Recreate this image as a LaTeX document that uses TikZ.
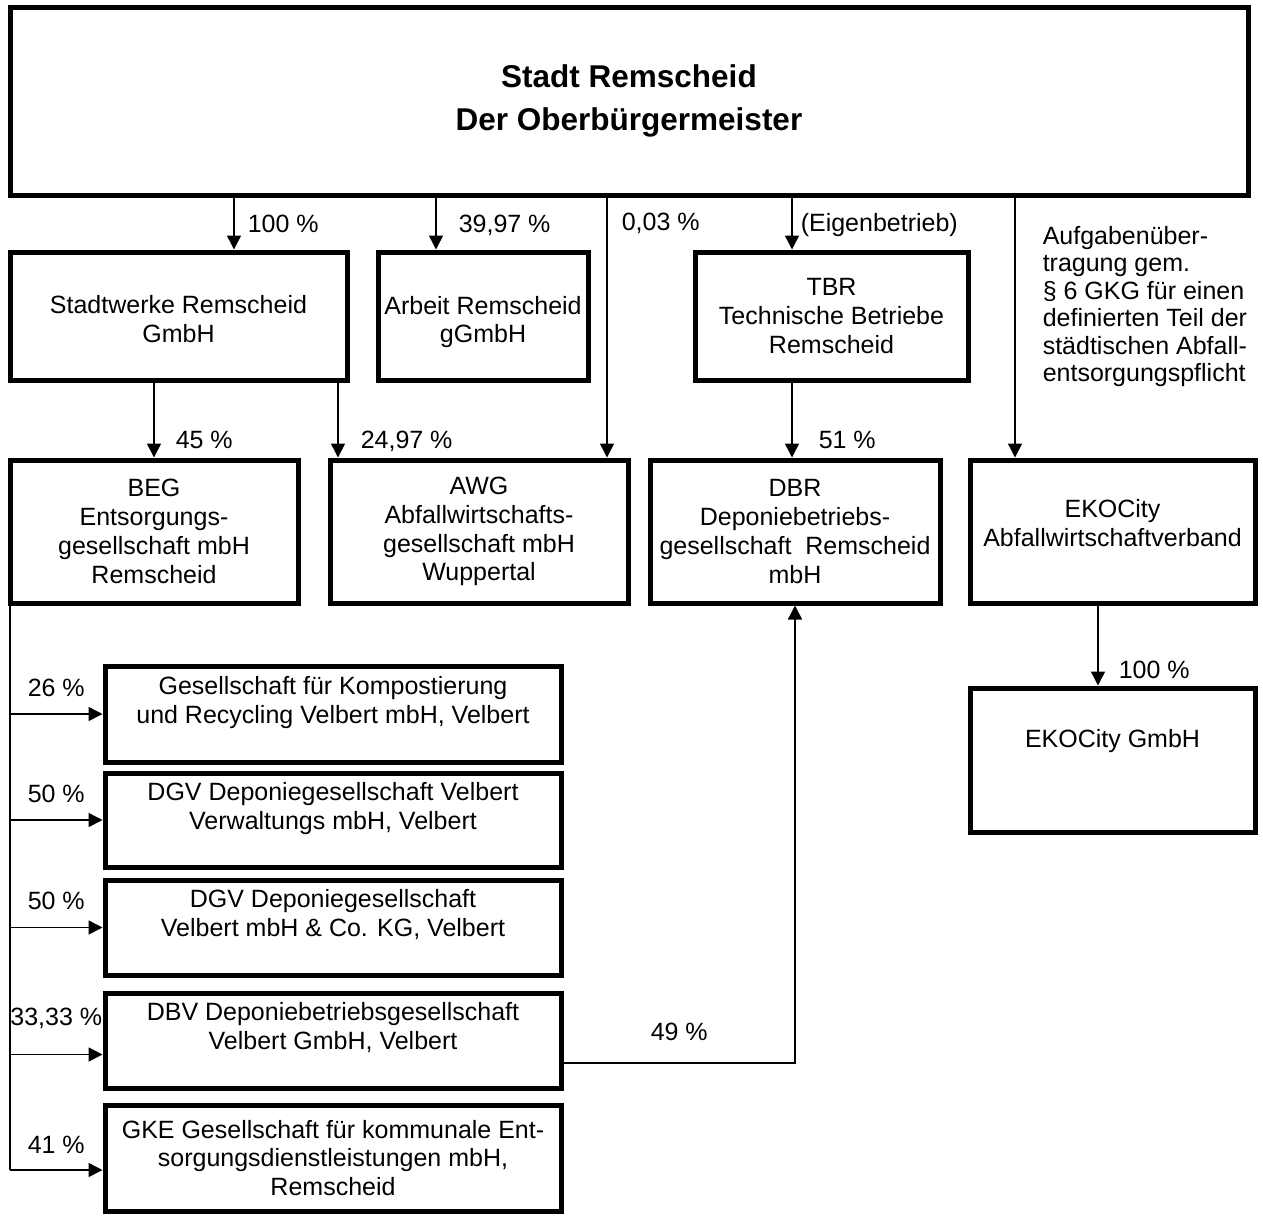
\documentclass[tikz,border=0pt]{standalone}
\usepackage{fontspec}
\setmainfont{Liberation Sans}
\usetikzlibrary{arrows.meta,positioning}

\begin{document}
\begin{tikzpicture}[x=1pt,y=-1pt,>={Triangle[length=14pt,width=14pt]},
  font=\fontsize{25}{28.75}\selectfont,
  org/.style={draw,line width=5pt,align=center,inner sep=3pt},
  link/.style={->,line width=1.5pt},
  pct/.style={right,inner sep=0pt}]
  \useasboundingbox (0,0) rectangle (1263,1216);
  \node[org,minimum width=1238pt,minimum height=188pt,
        font=\bfseries\fontsize{31.5}{43}\selectfont] (stadt) at (629,101)
        {Stadt Remscheid\\Der Oberbürgermeister};
  \node[org,minimum width=337pt,minimum height=128pt] (swr) at (178.5,316) {\rule{0pt}{24pt}Stadtwerke Remscheid\\GmbH};
  \node[org,minimum width=210pt,minimum height=128pt] (arbeit) [right=26pt of swr] {\rule{0pt}{30pt}Arbeit Remscheid\\gGmbH};
  \node[org,minimum width=273pt,minimum height=128pt] (tbr) [right=102pt of arbeit] {TBR\\Technische Betriebe\\Remscheid};
  \node[org,minimum width=288pt,minimum height=143pt] (beg) at (154,531.5) {BEG\\Entsorgungs-\\gesellschaft mbH\\Remscheid};
  \node[org,minimum width=298pt,minimum height=143pt] (awg) [right=27pt of beg] {AWG\\Abfallwirtschafts-\\gesellschaft mbH\\Wuppertal};
  \node[org,minimum width=290pt,minimum height=143pt] (dbr) [right=17pt of awg] {DBR\\Deponiebetriebs-\\gesellschaft\ \ Remscheid\\mbH};
  \node[org,minimum width=285pt,minimum height=143pt] (eko) [right=25pt of dbr] {EKOCity\\Abfallwirtschaftverband\\[-12pt]\mbox{}};
  \node[org,minimum width=285pt,minimum height=144pt] (ekogmbh) [below=80pt of eko] {EKOCity GmbH\\[-14pt]\mbox{}\\\mbox{}};
  \node[org,minimum width=456pt,minimum height=96pt] (kv1) at (333,714) {Gesellschaft für Kompostierung\\und Recycling Velbert mbH, Velbert\\\mbox{}};
  \node[org,minimum width=456pt,minimum height=94pt] (kv2) [below=6pt of kv1] {DGV Deponiegesellschaft Velbert\\Verwaltungs mbH, Velbert\\\mbox{}};
  \node[org,minimum width=456pt,minimum height=95pt] (kv3) [below=8pt of kv2] {DGV Deponiegesellschaft\\Velbert mbH \& Co. KG, Velbert\\\mbox{}};
  \node[org,minimum width=456pt,minimum height=95pt] (kv4) [below=13pt of kv3] {DBV Deponiebetriebsgesellschaft\\Velbert GmbH, Velbert\\\mbox{}};
  \node[org,minimum width=456pt,minimum height=106pt] (kv5) [below=12pt of kv4] {GKE Gesellschaft für kommunale Ent-\\sorgungsdienstleistungen mbH,\\Remscheid};

  \coordinate (swrline) at (234,0);
  \coordinate (arbline) at (436,0);
  \coordinate (awgline) at (607,0);
  \coordinate (tbrline) at (792,0);
  \coordinate (ekoline) at (1015,0);
  \coordinate (awgline2) at (338,0);
  \coordinate (gmbhline) at (1098,0);
  \coordinate (trunkend) at (10,1170);
  \coordinate (kv4in) at ([yshift=-14pt]kv4.west);
  \coordinate (kv4out) at ([yshift=-22.5pt]kv4.east);

  \draw[link] (stadt.south -| swrline) -- node[pct,xshift=13pt] {100 \%} (swr.north -| swrline);
  \draw[link] (stadt.south -| arbline) -- node[pct,xshift=22pt,yshift=-2pt] {39,97 \%} (arbeit.north -| arbline);
  \draw[link] (stadt.south -| awgline) -- node[pct,pos=.1,xshift=14pt] {0,03 \%} (awg.north -| awgline);
  \draw[link] (stadt.south -| tbrline) -- node[pct,xshift=8pt,yshift=-2pt] {(Eigenbetrieb)} (tbr.north -| tbrline);
  \draw[link] (stadt.south -| ekoline) -- node[pct,pos=.42,xshift=27pt,align=left,font=\fontsize{25}{27.5}\selectfont]
    {Aufgabenüber-\\tragung gem.\\§ 6 GKG für einen\\definierten Teil der\\städtischen Abfall-\\entsorgungspflicht} (eko.north -| ekoline);
  \draw[link] (swr.south -| beg.north) -- node[pct,pos=.77,xshift=21pt] {45 \%} (beg.north);
  \draw[link] (swr.south -| awgline2) -- node[pct,pos=.78,xshift=22pt] {24,97 \%} (awg.north -| awgline2);
  \draw[link] (tbr.south -| tbrline) -- node[pct,pos=.77,xshift=26pt] {51 \%} (dbr.north -| tbrline);
  \draw[link] (eko.south -| gmbhline) -- node[pct,pos=.81,xshift=20pt] {100 \%} (ekogmbh.north -| gmbhline);

  \draw[line width=1.5pt] (beg.south -| trunkend) -- (trunkend);
  \draw[link] (kv1.west -| trunkend) -- node[above=17pt,inner sep=0pt] {26 \%} (kv1.west);
  \draw[link] (kv2.west -| trunkend) -- node[above=17pt,inner sep=0pt] {50 \%} (kv2.west);
  \draw[link] (kv3.west -| trunkend) -- node[above=17pt,inner sep=0pt] {50 \%} (kv3.west);
  \draw[link] (kv4in -| trunkend) -- node[above=25pt,inner sep=0pt] {33,33 \%} (kv4in);
  \draw[link] (trunkend) -- node[above=16pt,inner sep=0pt] {41 \%} (trunkend -| kv5.west);
  \draw[link] (kv4out) -| node[pos=.25,above=22pt,inner sep=0pt] {49 \%} (dbr.south);
\end{tikzpicture}
\end{document}
